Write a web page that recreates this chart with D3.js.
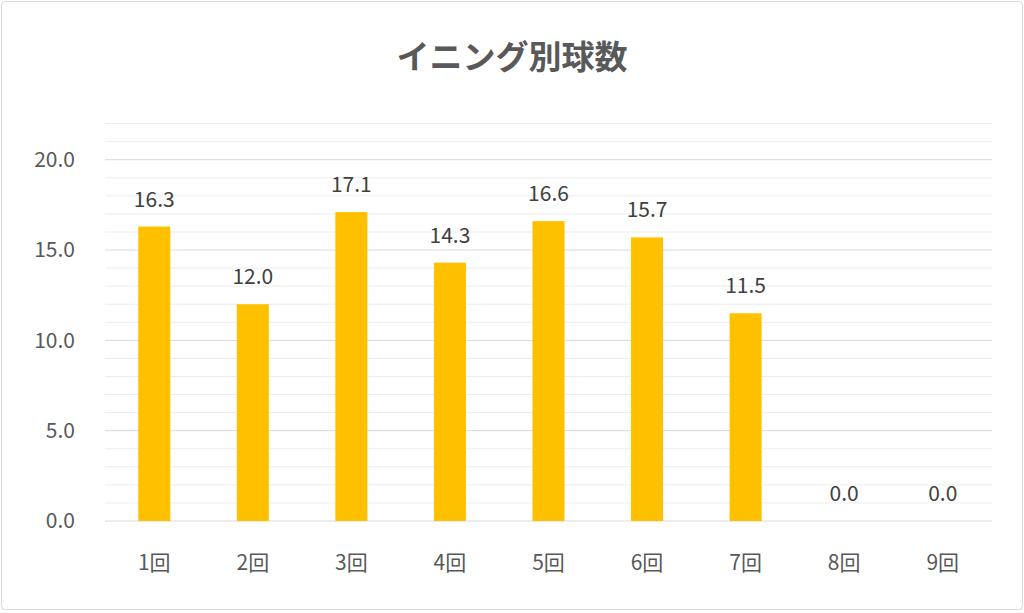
<!DOCTYPE html>
<html><head><meta charset="utf-8">
<script src="https://cdn.jsdelivr.net/npm/d3@7"></script>
<style>body{margin:0;background:#fff}</style>
</head><body>
<script>
const categories = ["1回","2回","3回","4回","5回","6回","7回","8回","9回"];
const values = [16.3, 12.0, 17.1, 14.3, 16.6, 15.7, 11.5, 0.0, 0.0];
const yTicks = [0, 5, 10, 15, 20];

const W = 1024, H = 613;
const font = "'Noto Sans CJK JP','Noto Sans',sans-serif";
const svg = d3.select("body").append("svg").attr("width", W).attr("height", H);
svg.append("rect").attr("x", 1.5).attr("y", 1.5).attr("width", W - 3).attr("height", H - 5)
  .attr("fill", "#fff").attr("stroke", "#d9d9d9").attr("rx", 4);

const x = d3.scaleBand().domain(categories).range([105, 992]).paddingInner(0.675).paddingOuter(0.3375);
const y = d3.scaleLinear().domain([0, 22]).range([521, 123.6]);

svg.append("g").selectAll("line").data(d3.range(1, 23)).join("line")
  .attr("x1", 105).attr("x2", 992).attr("y1", d => y(d)).attr("y2", d => y(d))
  .attr("stroke", d => d % 5 === 0 ? "#d9d9d9" : "#ececec").attr("stroke-width", 1);
svg.append("line").attr("x1", 105).attr("x2", 992).attr("y1", y(0)).attr("y2", y(0)).attr("stroke", "#d9d9d9");

svg.append("g").selectAll("text").data(yTicks).join("text")
  .attr("x", 75).attr("y", d => y(d)).attr("dy", "0.35em").attr("text-anchor", "end")
  .attr("font-family", font).attr("font-size", 21).attr("fill", "#595959")
  .text(d => d.toFixed(1));

svg.append("g").selectAll("text").data(categories).join("text")
  .attr("x", d => x(d) + x.bandwidth() / 2).attr("y", 570).attr("text-anchor", "middle")
  .attr("font-family", font).attr("font-size", 21).attr("fill", "#595959").text(d => d);

svg.append("g").selectAll("rect").data(values).join("rect")
  .attr("x", (d, i) => x(categories[i])).attr("width", x.bandwidth())
  .attr("y", d => y(d)).attr("height", d => y(0) - y(d)).attr("fill", "#ffc000");

svg.append("g").selectAll("text").data(values).join("text")
  .attr("x", (d, i) => x(categories[i]) + x.bandwidth() / 2).attr("y", d => y(d) - 20)
  .attr("text-anchor", "middle").attr("font-family", font).attr("font-size", 21).attr("fill", "#404040")
  .text(d => d.toFixed(1));

svg.append("text").attr("x", W / 2).attr("y", 69).attr("text-anchor", "middle")
  .attr("font-family", font).attr("font-size", 33).attr("font-weight", "bold").attr("fill", "#595959")
  .text("イニング別球数");
</script>
</body></html>
